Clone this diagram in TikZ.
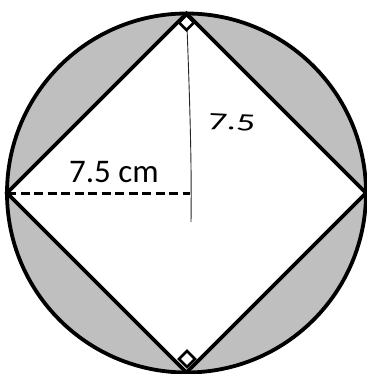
\documentclass[tikz,border=0pt]{standalone}
\usepackage{fontspec}
\setmainfont{Carlito}
\begin{document}
\begin{tikzpicture}[x=1pt,y=-1pt,
  outline/.style={line width=3.8pt,line join=miter},
  shade/.style={fill=gray!50},
  radius line/.style={line width=3pt,dash pattern=on 9pt off 4.5pt},
  hand line/.style={line width=0.9pt,black!85},
  rightmark/.style={line width=2.8pt,fill=white},
  label/.style={inner sep=0pt,font=\fontsize{33}{33}\selectfont}]
\useasboundingbox (0,0) rectangle (366,374);
\coordinate (O) at (186.5,193);
\coordinate (T) at (186.5,13.5);
\coordinate (B) at (186.5,372.5);
\coordinate (L) at (7,193);
\coordinate (R) at (366,193);
\coordinate (H) at (191,222);
% shaded segments
\fill[shade] (O) circle[radius=179.5];
\fill[white] (T) -- (R) -- (B) -- (L) -- cycle;
% hand-drawn vertical line
\draw[hand line] (T) .. controls (189,80) and (192,160) .. (H);
% dashed radius
\draw[radius line] (L) -- (190,193);
% right-angle marks
\draw[rightmark] (186.5,15) -- (194,22.5) -- (186.5,30) -- (179,22.5) -- cycle;
\draw[rightmark] (187,351) -- (195,359) -- (187,367) -- (179,359) -- cycle;
% outlines
\draw[outline] (O) circle[radius=179.5];
\draw[outline] (T) -- (R) -- (B) -- (L) -- cycle;
% labels
\node[label,anchor=base west] (lbl) at (69,182.5) {7.5 cm};
\node[inner sep=0pt,anchor=base west,font=\fontsize{25}{25}\selectfont,xscale=1.5,rotate=-4] (hand) at (207,129) {7.5};
\end{tikzpicture}
\end{document}
